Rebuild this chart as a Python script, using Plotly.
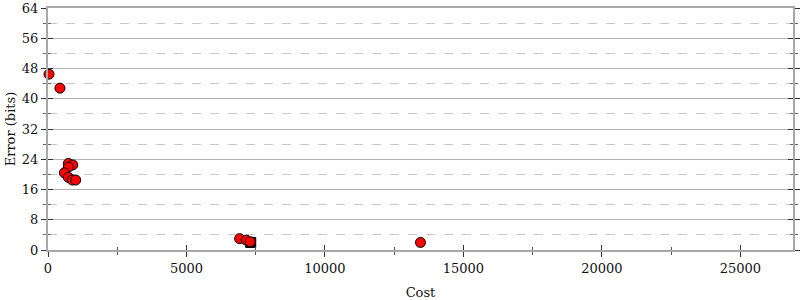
import plotly.graph_objects as go

# Data
cost = [36, 432, 735, 893, 735, 591, 735, 880, 1000, 6920, 7160, 7300, 13450]
error = [46.5, 42.8, 22.9, 22.5, 21.9, 20.4, 19.2, 18.5, 18.5, 3.0, 2.6, 2.2, 2.0]
init_cost = [7320]
init_error = [2.0]

x_max = 26900
y_ticks = [0, 8, 16, 24, 32, 40, 48, 56, 64]
x_ticks = [0, 5000, 10000, 15000, 20000, 25000]

font = dict(family="DejaVu Serif", size=13, color="#111")
tick_col = "#333333"
line_col = "#a8a8a8"

fig = go.Figure()
fig.add_trace(go.Scatter(
    x=init_cost, y=init_error, mode="markers", cliponaxis=False,
    marker=dict(symbol="square", size=10, color="black", line=dict(color="black", width=1)),
    showlegend=False))
fig.add_trace(go.Scatter(
    x=cost, y=error, mode="markers", cliponaxis=False,
    marker=dict(symbol="circle", size=10, color="#ff0000", line=dict(color="black", width=1)),
    showlegend=False))
# invisible trace to anchor the overlay axes (inside half of crossing ticks)
fig.add_trace(go.Scatter(x=[None], y=[None], xaxis="x2", yaxis="y2",
                         mode="markers", showlegend=False, hoverinfo="skip"))

fig.update_layout(
    width=800, height=300,
    margin=dict(l=48, r=7, t=8, b=50),
    plot_bgcolor="white", paper_bgcolor="white",
    font=font,
    xaxis=dict(
        range=[0, x_max], tickvals=x_ticks, ticktext=[str(v) for v in x_ticks],
        showgrid=False, zeroline=False, automargin=False, ticklabeloverflow="allow",
        showline=True, linecolor=line_col, linewidth=2, mirror=True,
        ticks="outside", ticklen=5, tickcolor=tick_col, tickwidth=1,
        minor=dict(dtick=2500, ticks="outside", ticklen=3, tickcolor="#555", showgrid=False),
        title=dict(text="Cost", font=font, standoff=16),
        tickfont=font,
    ),
    xaxis2=dict(
        range=[0, x_max], overlaying="x", anchor="y", side="bottom", automargin=False,
        tickvals=x_ticks, showticklabels=False, showgrid=False, zeroline=False,
        showline=False, ticks="inside", ticklen=5, tickcolor=tick_col, tickwidth=1,
        minor=dict(dtick=2500, ticks="inside", ticklen=3, tickcolor="#555", showgrid=False),
    ),
    yaxis=dict(
        range=[0, 64], tickvals=y_ticks, ticktext=[str(v) for v in y_ticks],
        showgrid=True, gridcolor="#b4b4b4", gridwidth=1, zeroline=False, automargin=False,
        ticklabeloverflow="allow",
        showline=True, linecolor=line_col, linewidth=2, mirror="ticks",
        ticks="outside", ticklen=5, tickcolor=tick_col, tickwidth=1,
        minor=dict(dtick=4, ticks="outside", ticklen=3, tickcolor="#666",
                   showgrid=True, gridcolor="#c8c8c8", griddash="dash", gridwidth=1),
        title=dict(text="Error (bits)", font=font, standoff=3),
        tickfont=font,
    ),
    yaxis2=dict(
        range=[0, 64], overlaying="y", anchor="x", side="left", automargin=False,
        tickvals=y_ticks, showticklabels=False, showgrid=False, zeroline=False,
        showline=False, mirror="ticks", ticks="inside", ticklen=5,
        tickcolor=tick_col, tickwidth=1,
        minor=dict(dtick=4, ticks="inside", ticklen=3, tickcolor="#666", showgrid=False),
    ),
)

fig.write_html("out.html")
